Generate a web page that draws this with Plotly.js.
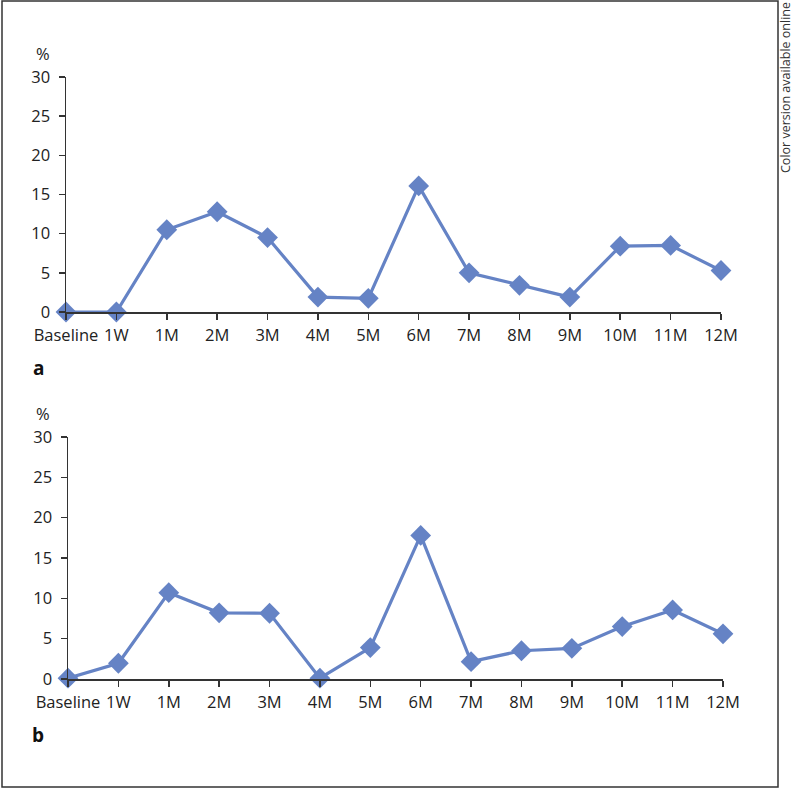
<!DOCTYPE html>
<html>
<head>
<meta charset="utf-8">
<script src="https://cdn.plot.ly/plotly-3.0.1.min.js"></script>
<style>
  html, body { margin: 0; padding: 0; background: #fff; }
  #chart { width: 793px; height: 788px; }
</style>
</head>
<body>
<div id="chart"></div>
<script>
// time points and percentages for panels a and b
const timePoints = ['Baseline', '1W', '1M', '2M', '3M', '4M', '5M', '6M', '7M', '8M', '9M', '10M', '11M', '12M'];
const panelA = [0, 0, 10.5, 12.8, 9.5, 1.9, 1.75, 16.1, 5.0, 3.4, 1.9, 8.4, 8.5, 5.3];
const panelB = [0.1, 1.95, 10.7, 8.2, 8.15, 0.1, 3.9, 17.8, 2.15, 3.5, 3.8, 6.5, 8.56, 5.6];
const yTicks = [0, 5, 10, 15, 20, 25, 30];

const W = 793, H = 788;
const blue = '#6583c5';
const axisColor = '#333333';
const font = { family: 'Open Sans, sans-serif', size: 16.5, color: '#222222' };

// px helpers so the layout can be laid out like the figure
const px = x => x / W;
const py = y => 1 - y / H;

function lineTrace(values, xa, ya) {
    return {
        type: 'scatter',
        mode: 'lines+markers',
        x: timePoints,
        y: values,
        xaxis: xa,
        yaxis: ya,
        cliponaxis: false,
        line: { color: blue, width: 3.2 },
        marker: { symbol: 'diamond', size: 16, color: blue },
        hoverinfo: 'x+y'
    };
}

function xAxis(domain, anchor) {
    return {
        domain: domain,
        anchor: anchor,
        type: 'category',
        range: [0, 13],
        autorange: false,
        showgrid: false,
        zeroline: false,
        showline: true,
        linecolor: axisColor,
        linewidth: 1.5,
        ticks: 'outside',
        ticklen: 6,
        tickwidth: 1.5,
        tickcolor: axisColor,
        ticklabelstandoff: 2,
        tickfont: font,
        fixedrange: true
    };
}

function yAxis(domain, anchor) {
    return {
        domain: domain,
        anchor: anchor,
        range: [0, 30],
        autorange: false,
        tickvals: yTicks,
        showgrid: false,
        zeroline: false,
        showline: true,
        linecolor: axisColor,
        linewidth: 1.5,
        ticks: 'outside',
        ticklen: 6,
        tickwidth: 1.5,
        tickcolor: axisColor,
        ticklabelstandoff: 5,
        tickfont: font,
        fixedrange: true
    };
}

function note(text, x, y, extra) {
    return Object.assign({
        text: text, xref: 'paper', yref: 'paper', x: px(x), y: py(y),
        xanchor: 'center', yanchor: 'middle', showarrow: false, font: font
    }, extra || {});
}

const data = [
    lineTrace(panelA, 'x', 'y'),
    lineTrace(panelB, 'x2', 'y2')
];

const boldFont = { family: 'Open Sans, sans-serif', size: 19, color: '#111' };

const layout = {
    width: W,
    height: H,
    margin: { t: 0, b: 0, l: 0, r: 0 },
    paper_bgcolor: '#ffffff',
    plot_bgcolor: 'rgba(0,0,0,0)',
    showlegend: false,
    font: font,
    xaxis: xAxis([px(66), px(721)], 'y'),
    yaxis: yAxis([py(312), py(77)], 'x'),
    xaxis2: xAxis([px(68), px(723)], 'y2'),
    yaxis2: yAxis([py(679), py(437)], 'x2'),
    shapes: [{
        type: 'rect', xref: 'paper', yref: 'paper',
        x0: px(2), x1: px(778), y0: py(787), y1: py(1),
        line: { color: axisColor, width: 1.5 }
    }],
    annotations: [
        note('%', 43, 53),
        note('%', 43, 413),
        note('<b>a</b>', 38, 368, { font: boldFont }),
        note('<b>b</b>', 38, 735, { font: boldFont }),
        note('Color version available online', 785, 88, {
            textangle: -90,
            font: { family: 'Open Sans, sans-serif', size: 12.5, color: '#333' }
        })
    ]
};

Plotly.newPlot('chart', data, layout, { staticPlot: true });
</script>
</body>
</html>
